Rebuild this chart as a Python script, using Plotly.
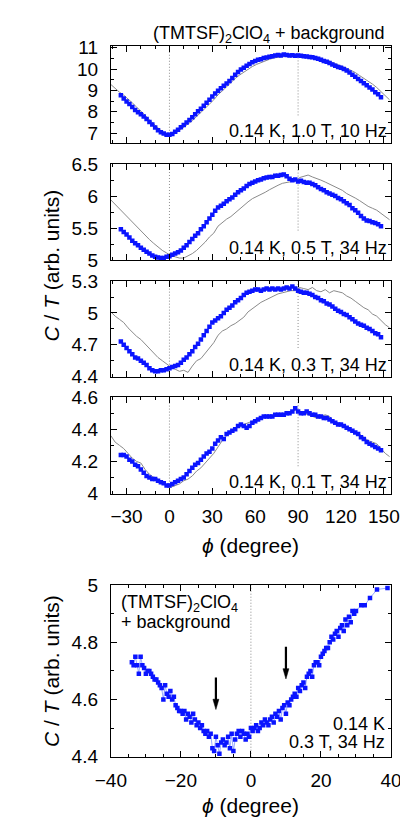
import plotly.graph_objects as go

# ---------------- data ----------------
PHI_BLUE = list(range(-34, 149, 2))
PHI_GRAY = list(range(-41, 155, 3))

P1_BLUE = [8.78, 8.62, 8.48, 8.36, 8.22, 8.08, 7.98, 7.88, 7.78, 7.66, 7.52, 7.40, 7.26, 7.14, 7.04, 6.98, 6.92,
           6.93, 6.96, 7.06, 7.16, 7.28, 7.38, 7.50, 7.62, 7.74, 7.88, 8.02, 8.14, 8.28, 8.42, 8.56, 8.72, 8.86,
           8.98, 9.10, 9.22, 9.32, 9.44, 9.58, 9.74, 9.86, 9.98, 10.06, 10.16, 10.24, 10.32, 10.38, 10.44, 10.46,
           10.52, 10.54, 10.58, 10.60, 10.64, 10.66, 10.64, 10.68, 10.66, 10.64, 10.65, 10.63, 10.64, 10.62, 10.60,
           10.59, 10.57, 10.55, 10.52, 10.48, 10.44, 10.38, 10.34, 10.28, 10.22, 10.16, 10.10, 10.06, 10.00, 9.94,
           9.84, 9.74, 9.64, 9.54, 9.44, 9.34, 9.24, 9.14, 9.04, 8.92, 8.82, 8.68]
P1_GRAY = [9.28, 9.08, 8.92, 8.78, 8.62, 8.42, 8.22, 8.04, 7.84, 7.62, 7.42, 7.22, 7.06, 6.96, 6.94, 6.98, 7.12,
           7.26, 7.42, 7.58, 7.78, 7.96, 8.16, 8.36, 8.56, 8.80, 8.98, 9.18, 9.38, 9.56, 9.72, 9.86, 9.98, 10.12,
           10.22, 10.30, 10.40, 10.46, 10.52, 10.56, 10.58, 10.62, 10.60, 10.64, 10.62, 10.60, 10.58, 10.56, 10.52,
           10.50, 10.42, 10.38, 10.28, 10.20, 10.14, 10.04, 9.94, 9.84, 9.70, 9.58, 9.44, 9.30, 9.14, 8.96, 8.76, 8.56]

P2_BLUE = [5.48, 5.44, 5.40, 5.35, 5.30, 5.26, 5.23, 5.19, 5.16, 5.13, 5.10, 5.07, 5.05, 5.04, 5.03, 5.03, 5.05,
           5.06, 5.08, 5.10, 5.12, 5.15, 5.19, 5.23, 5.28, 5.33, 5.38, 5.42, 5.48, 5.53, 5.59, 5.65, 5.71, 5.77,
           5.82, 5.85, 5.88, 5.92, 5.95, 5.98, 6.02, 6.06, 6.09, 6.12, 6.16, 6.19, 6.21, 6.23, 6.25, 6.26, 6.28,
           6.29, 6.30, 6.30, 6.32, 6.32, 6.33, 6.34, 6.31, 6.27, 6.25, 6.26, 6.23, 6.24, 6.22, 6.21, 6.21, 6.19,
           6.17, 6.14, 6.11, 6.09, 6.06, 6.04, 6.02, 6.00, 5.97, 5.95, 5.92, 5.89, 5.86, 5.81, 5.78, 5.74, 5.69,
           5.65, 5.62, 5.61, 5.59, 5.58, 5.56, 5.53]
P2_GRAY = [5.94, 5.87, 5.80, 5.74, 5.66, 5.59, 5.52, 5.46, 5.39, 5.32, 5.26, 5.20, 5.15, 5.11, 5.07, 5.05, 5.03,
           5.03, 5.06, 5.10, 5.15, 5.21, 5.28, 5.36, 5.42, 5.53, 5.59, 5.64, 5.68, 5.74, 5.79, 5.85, 5.91, 5.96,
           5.99, 6.03, 6.06, 6.10, 6.14, 6.17, 6.20, 6.21, 6.22, 6.24, 6.29, 6.31, 6.33, 6.30, 6.28, 6.25, 6.22,
           6.19, 6.16, 6.13, 6.09, 6.04, 6.01, 5.97, 5.93, 5.88, 5.84, 5.81, 5.78, 5.73, 5.68, 5.63]

P3_BLUE = [4.73, 4.70, 4.67, 4.64, 4.61, 4.58, 4.57, 4.55, 4.53, 4.51, 4.48, 4.46, 4.45, 4.45, 4.46, 4.46, 4.47,
           4.48, 4.49, 4.50, 4.51, 4.53, 4.56, 4.58, 4.61, 4.64, 4.68, 4.71, 4.75, 4.79, 4.83, 4.87, 4.91, 4.93,
           4.95, 4.97, 5.00, 5.03, 5.05, 5.07, 5.10, 5.12, 5.14, 5.17, 5.19, 5.20, 5.21, 5.22, 5.22, 5.21, 5.22,
           5.23, 5.22, 5.23, 5.22, 5.23, 5.22, 5.23, 5.24, 5.23, 5.25, 5.23, 5.21, 5.20, 5.19, 5.19, 5.18, 5.17,
           5.15, 5.14, 5.12, 5.11, 5.09, 5.08, 5.06, 5.04, 5.02, 5.01, 4.99, 4.98, 4.96, 4.94, 4.92, 4.90, 4.89,
           4.88, 4.86, 4.85, 4.83, 4.81, 4.80, 4.77]
P3_GRAY = [5.01, 4.97, 4.94, 4.91, 4.86, 4.82, 4.78, 4.75, 4.71, 4.67, 4.62, 4.58, 4.55, 4.52, 4.49, 4.47, 4.45,
           4.46, 4.44, 4.50, 4.55, 4.57, 4.62, 4.66, 4.72, 4.79, 4.83, 4.85, 4.88, 4.90, 4.93, 4.96, 5.01, 5.04,
           5.07, 5.10, 5.12, 5.14, 5.16, 5.18, 5.19, 5.20, 5.21, 5.21, 5.24, 5.23, 5.22, 5.24, 5.21, 5.20, 5.22,
           5.19, 5.21, 5.20, 5.19, 5.16, 5.14, 5.11, 5.08, 5.05, 5.03, 4.99, 4.97, 4.93, 4.89, 4.86]

P4_BLUE = [4.24, 4.24, 4.23, 4.21, 4.20, 4.18, 4.17, 4.15, 4.13, 4.11, 4.10, 4.09, 4.09, 4.08, 4.07, 4.065, 4.05,
           4.05, 4.06, 4.07, 4.08, 4.09, 4.10, 4.12, 4.14, 4.16, 4.18, 4.19, 4.21, 4.23, 4.25, 4.26, 4.28, 4.31,
           4.33, 4.35, 4.34, 4.37, 4.38, 4.39, 4.40, 4.42, 4.43, 4.42, 4.41, 4.42, 4.44, 4.45, 4.46, 4.47, 4.48,
           4.48, 4.48, 4.48, 4.49, 4.49, 4.49, 4.49, 4.50, 4.50, 4.51, 4.53, 4.51, 4.50, 4.50, 4.51, 4.50, 4.49,
           4.49, 4.48, 4.48, 4.47, 4.47, 4.46, 4.45, 4.44, 4.43, 4.43, 4.42, 4.41, 4.40, 4.39, 4.38, 4.37, 4.35,
           4.34, 4.32, 4.31, 4.30, 4.29, 4.28, 4.27]
P4_GRAY = [4.36, 4.32, 4.30, 4.28, 4.25, 4.22, 4.20, 4.19, 4.15, 4.12, 4.10, 4.09, 4.07, 4.05, 4.04, 4.05, 4.06,
           4.08, 4.09, 4.11, 4.14, 4.16, 4.19, 4.22, 4.25, 4.29, 4.33, 4.36, 4.39, 4.41, 4.42, 4.43, 4.44, 4.45,
           4.46, 4.47, 4.48, 4.48, 4.49, 4.49, 4.49, 4.50, 4.50, 4.52, 4.51, 4.50, 4.49, 4.48, 4.47, 4.48, 4.49,
           4.48, 4.45, 4.44, 4.42, 4.41, 4.40, 4.38, 4.37, 4.35, 4.33, 4.32, 4.31, 4.28, 4.25, 4.23]

PANEL_LABELS = ["0.14 K, 1.0 T, 10 Hz", "0.14 K, 0.5 T, 34 Hz", "0.14 K, 0.3 T, 34 Hz", "0.14 K, 0.1 T, 34 Hz"]
PANEL_YRANGE = [[6.55, 11.07], [5.0, 6.5], [4.4, 5.3], [4.0, 4.6]]
PANEL_YTICKS = [[7, 8, 9, 10, 11], [5, 5.5, 6, 6.5], [4.4, 4.7, 5.0, 5.3], [4.0, 4.2, 4.4, 4.6]]
PANEL_YTICKTEXT = [["7", "8", "9", "10", "11"], ["5", "5.5", "6", "6.5"], ["4.4", "4.7", "5", "5.3"],
                   ["4", "4.2", "4.4", "4.6"]]
PANEL_YMINOR = [0.5, 0.25, 0.15, 0.1]
PANEL_90_BOTTOM = [7.83, 5.46, 4.67, 4.17]
X_TICKS = [-30, 0, 30, 60, 90, 120, 150]

# zoomed panel (0.3 T)
Z_PHI = [i * 0.5 for i in range(-68, 61)] + [31.5, 32.5, 34, 36, 39]
Z_VAL = [4.73, 4.72, 4.75, 4.72, 4.69, 4.75, 4.72, 4.71, 4.69, 4.70, 4.70, 4.69, 4.68, 4.67, 4.67, 4.66, 4.65,
         4.64, 4.60, 4.65, 4.62, 4.61, 4.63, 4.60, 4.61, 4.58, 4.57, 4.56, 4.56, 4.55, 4.56, 4.53, 4.55, 4.54,
         4.52, 4.55, 4.53, 4.51, 4.52, 4.50, 4.51, 4.49, 4.48, 4.49, 4.47, 4.48, 4.43, 4.42, 4.47, 4.44, 4.41,
         4.45, 4.46, 4.44, 4.45, 4.47, 4.43, 4.48, 4.42, 4.46, 4.48, 4.49, 4.47, 4.49, 4.48, 4.46, 4.48, 4.47,
         4.50, 4.49, 4.50, 4.51, 4.49, 4.50, 4.52, 4.51, 4.53, 4.52, 4.51, 4.53, 4.54, 4.52, 4.55, 4.54, 4.56,
         4.53, 4.57, 4.58, 4.55, 4.59, 4.58, 4.60, 4.61, 4.62, 4.61, 4.64, 4.63, 4.65, 4.66, 4.64, 4.68, 4.69,
         4.70, 4.68, 4.72, 4.73, 4.73, 4.72, 4.75, 4.76, 4.77, 4.78, 4.78, 4.80, 4.82, 4.81, 4.83, 4.84, 4.82,
         4.85, 4.86, 4.84, 4.88, 4.86, 4.89, 4.87, 4.91, 4.90, 4.91,
         4.93, 4.93, 4.955, 4.985, 4.99]
ARROW_X = [-10, 10]
ARROW_TOP = [4.677, 4.785]
ARROW_TIP = [4.565, 4.672]

for arr in (P1_BLUE, P2_BLUE, P3_BLUE, P4_BLUE):
    assert len(arr) == len(PHI_BLUE), len(arr)
for arr in (P1_GRAY, P2_GRAY, P3_GRAY, P4_GRAY):
    assert len(arr) == len(PHI_GRAY), len(arr)
assert len(Z_PHI) == len(Z_VAL), (len(Z_PHI), len(Z_VAL))

# ---------------- figure ----------------
FONT = "Liberation Sans, Arial, Helvetica, sans-serif"
BLUE = "#0a14ff"
GRAY = "#8a8a8a"
DOT = dict(color="#8c8c8c", width=1, dash="1px,2px")
W, H = 408, 825
XL, XR = 93 / W, 393 / W
PANEL_PX = [(29, 128), (150, 248.3), (270, 368), (389, 488)]
Z_PX = (582, 758)


def dom(px):
    return [1 - px[1] / H, 1 - px[0] / H]


fig = go.Figure()
layout = dict(width=W, height=H, margin=dict(l=0, r=0, t=0, b=0), showlegend=False,
              plot_bgcolor="white", paper_bgcolor="white", font=dict(family=FONT, size=19, color="black"))

common_axis = dict(showline=True, linecolor="black", linewidth=1, mirror="allticks", ticks="inside",
                   ticklen=6, tickwidth=1, tickcolor="black", showgrid=False, zeroline=False,
                   tickfont=dict(family=FONT, size=19, color="black"))

shapes = []
annotations = []
panels = [(P1_BLUE, P1_GRAY), (P2_BLUE, P2_GRAY), (P3_BLUE, P3_GRAY), (P4_BLUE, P4_GRAY)]
for i, (bl, gr) in enumerate(panels):
    n = i + 1
    xa = "x" if n == 1 else f"x{n}"
    ya = "y" if n == 1 else f"y{n}"
    fig.add_trace(go.Scatter(x=PHI_GRAY, y=gr, mode="lines", line=dict(color=GRAY, width=1),
                             xaxis=xa, yaxis=ya, hoverinfo="skip"))
    fig.add_trace(go.Scatter(x=PHI_BLUE, y=bl, mode="markers",
                             marker=dict(symbol="square", size=4.5, color=BLUE, line=dict(width=0)),
                             xaxis=xa, yaxis=ya))
    layout["xaxis" if n == 1 else f"xaxis{n}"] = dict(
        common_axis, domain=[XL, XR], anchor=ya, range=[-41, 155],
        tickmode="array", tickvals=X_TICKS, showticklabels=(n == 4), ticklabelstandoff=6,
        minor=dict(ticks="inside", tick0=0, dtick=10, ticklen=3, tickcolor="black"))
    layout["yaxis" if n == 1 else f"yaxis{n}"] = dict(
        common_axis, domain=dom(PANEL_PX[i]), anchor=xa, range=PANEL_YRANGE[i],
        tickmode="array", tickvals=PANEL_YTICKS[i], ticktext=PANEL_YTICKTEXT[i], ticklabelstandoff=8,
        minor=dict(ticks="inside", tick0=PANEL_YTICKS[i][0], dtick=PANEL_YMINOR[i], ticklen=3,
                   tickcolor="black"))
    shapes.append(dict(type="line", xref=xa, yref=f"{ya} domain", x0=0, x1=0, y0=0, y1=1, line=DOT,
                       layer="below"))
    shapes.append(dict(type="line", xref=xa, yref=ya, x0=90, x1=90, y0=PANEL_90_BOTTOM[i],
                       y1=PANEL_YRANGE[i][1], line=DOT, layer="below"))
    annotations.append(dict(text=PANEL_LABELS[i], xref=f"{xa} domain", yref=f"{ya} domain",
                            x=0.99, y=0.12, xanchor="right", yanchor="middle", showarrow=False,
                            font=dict(size=18), borderpad=0))

# zoomed panel
fig.add_trace(go.Scatter(x=Z_PHI, y=Z_VAL, mode="lines+markers",
                         line=dict(color="rgba(70,100,255,0.7)", width=0.8),
                         marker=dict(symbol="square", size=4.5, color=BLUE, line=dict(width=0)),
                         xaxis="x5", yaxis="y5"))
layout["xaxis5"] = dict(common_axis, domain=[XL, XR], anchor="y5", range=[-40, 40], tickmode="array",
                        tickvals=[-40, -20, 0, 20, 40], ticklabelstandoff=6,
                        minor=dict(ticks="inside", tick0=0, dtick=5, ticklen=3, tickcolor="black"))
layout["yaxis5"] = dict(common_axis, domain=dom(Z_PX), anchor="x5", range=[4.4, 5.0], tickmode="array",
                        tickvals=[4.4, 4.6, 4.8, 5.0], ticktext=["4.4", "4.6", "4.8", "5"], ticklabelstandoff=8,
                        minor=dict(ticks="inside", tick0=4.4, dtick=0.1, ticklen=3, tickcolor="black"))
shapes.append(dict(type="line", xref="x5", yref="y5 domain", x0=0, x1=0, y0=0, y1=1, line=DOT,
                   layer="below"))
# arrows: shaft + filled head
for ax_, top, tip in zip(ARROW_X, ARROW_TOP, ARROW_TIP):
    head_h = 0.036
    shapes.append(dict(type="line", xref="x5", yref="y5", x0=ax_, x1=ax_, y0=top, y1=tip + head_h * 0.6,
                       line=dict(color="black", width=2.2)))
    shapes.append(dict(type="path", xref="x5", yref="y5",
                       path=f"M {ax_ - 0.85},{tip + head_h} L {ax_ + 0.85},{tip + head_h} L {ax_},{tip} Z",
                       fillcolor="black", line=dict(color="black", width=0.5)))

# texts
annotations += [
    dict(text="(TMTSF)<sub>2</sub>ClO<sub>4</sub> + background", xref="paper", yref="paper",
         x=389 / W, y=1 - 17 / H, xanchor="right", yanchor="middle", showarrow=False, font=dict(size=18)),
    dict(text="(TMTSF)<sub>2</sub>ClO<sub>4</sub>", xref="paper", yref="paper",
         x=102 / W, y=1 - 601 / H, xanchor="left", yanchor="middle", showarrow=False, font=dict(size=18)),
    dict(text="+ background", xref="paper", yref="paper",
         x=102 / W, y=1 - 620 / H, xanchor="left", yanchor="middle", showarrow=False, font=dict(size=18)),
    dict(text="0.14 K", xref="paper", yref="paper",
         x=389 / W, y=1 - 724 / H, xanchor="right", yanchor="middle", showarrow=False, font=dict(size=18)),
    dict(text="0.3 T, 34 Hz", xref="paper", yref="paper",
         x=389 / W, y=1 - 743 / H, xanchor="right", yanchor="middle", showarrow=False, font=dict(size=18)),
    dict(text="<i>C</i> / <i>T</i> (arb. units)", xref="paper", yref="paper", x=30 / W, y=1 - 254 / H,
         xanchor="center", yanchor="middle", textangle=-90, showarrow=False, font=dict(size=21)),
    dict(text="<i>C</i> / <i>T</i> (arb. units)", xref="paper", yref="paper", x=30 / W, y=1 - 670 / H,
         xanchor="center", yanchor="middle", textangle=-90, showarrow=False, font=dict(size=21)),
    dict(text="<i>ϕ</i> (degree)", xref="paper", yref="paper", x=243 / W, y=1 - 541 / H,
         xanchor="center", yanchor="middle", showarrow=False, font=dict(size=21)),
    dict(text="<i>ϕ</i> (degree)", xref="paper", yref="paper", x=243 / W, y=1 - 808 / H,
         xanchor="center", yanchor="middle", showarrow=False, font=dict(size=21)),
]
layout["shapes"] = shapes
layout["annotations"] = annotations
fig.update_layout(**layout)
fig.write_html("out.html")
